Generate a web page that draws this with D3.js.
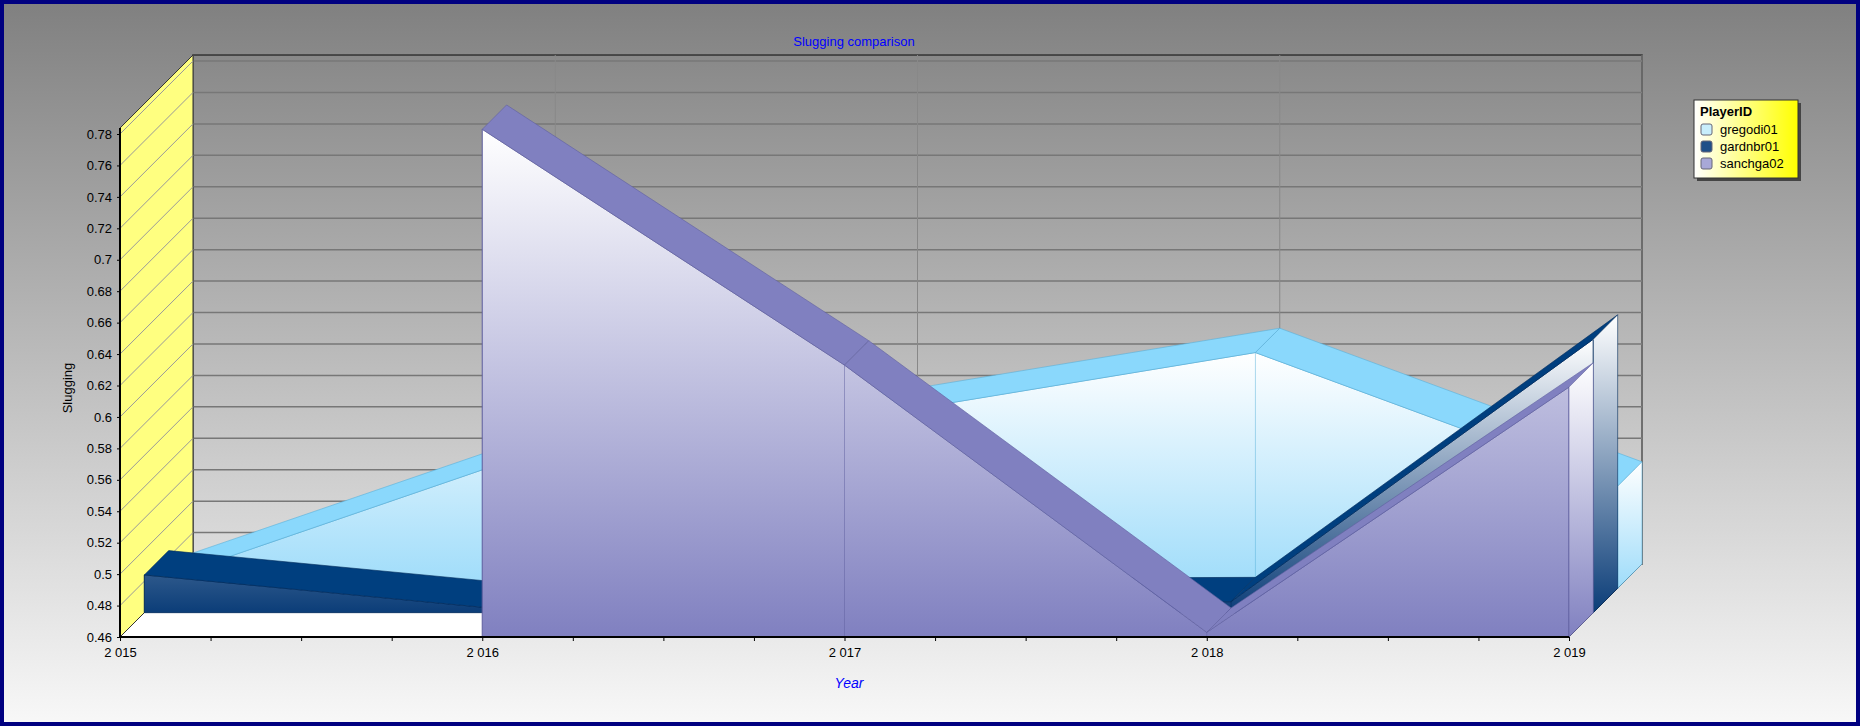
<!DOCTYPE html>
<html><head><meta charset="utf-8">
<script src="https://cdn.jsdelivr.net/npm/d3@7"></script>
<style>body{margin:0;overflow:hidden}svg{display:block;font-family:"Liberation Sans",Arial,sans-serif}</style>
</head><body><svg id="chart" width="1860" height="726"></svg>
<script>
const years = [2015, 2016, 2017, 2018, 2019];
const yearLabels = ['2 015', '2 016', '2 017', '2 018', '2 019'];
const yTicks = [0.46, 0.48, 0.5, 0.52, 0.54, 0.56, 0.58, 0.6, 0.62, 0.64, 0.66, 0.68, 0.7, 0.72, 0.74, 0.76, 0.78];
const seriesNames = ['gregodi01', 'gardnbr01', 'sanchga02'];
const gregodi01 = [0.467, 0.546, 0.572, 0.61, 0.525];
const gardnbr01 = [0.484, 0.462, 0.466, 0.467, 0.634];
const sanchga02 = [null, 0.783, 0.633, 0.463, 0.619];

const styles = [
  {name: 'gregodi01', values: gregodi01, strip: '#8ad8fc', face: '#9edcfa', edge: '#5ab0d8', layer: 2},
  {name: 'gardnbr01', values: gardnbr01, strip: '#003f7f', face: '#0b3d78', edge: '#002a5a', layer: 1},
  {name: 'sanchga02', values: sanchga02, strip: '#8080c0', face: '#8080c0', edge: '#6060a0', layer: 0}
];

const svg = d3.select('#chart');
const W = 1860, H = 726, D = 73, L = D / 3;
const x = d3.scaleLinear().domain([2015, 2019]).range([120, 1569]);
const y = d3.scaleLinear().domain([0.46, 0.78]).range([637, 134]);
const yTop = 0.7838;

const defs = svg.append('defs');
const bg = defs.append('linearGradient').attr('id', 'bg').attr('x1', 0).attr('y1', 0).attr('x2', 0).attr('y2', 1);
bg.append('stop').attr('offset', '0%').attr('stop-color', '#808080');
bg.append('stop').attr('offset', '100%').attr('stop-color', '#f8f8f8');
const lg = defs.append('linearGradient').attr('id', 'leg').attr('x1', 0).attr('y1', 0).attr('x2', 1).attr('y2', 0);
lg.append('stop').attr('offset', '0%').attr('stop-color', '#ffffff');
lg.append('stop').attr('offset', '100%').attr('stop-color', '#ffff00');
styles.forEach(s => {
  const g = defs.append('linearGradient').attr('id', 'f' + s.layer).attr('gradientUnits', 'userSpaceOnUse')
    .attr('x1', 0).attr('y1', y(d3.max(s.values)) - s.layer * L).attr('x2', 0).attr('y2', y(0.46) - s.layer * L);
  g.append('stop').attr('offset', '0%').attr('stop-color', '#ffffff');
  g.append('stop').attr('offset', '100%').attr('stop-color', s.face);
  const sg = defs.append('linearGradient').attr('id', 'sw' + s.layer).attr('x1', 0).attr('y1', 0).attr('x2', 0).attr('y2', 1);
  sg.append('stop').attr('offset', '0%').attr('stop-color', '#ffffff');
  sg.append('stop').attr('offset', '100%').attr('stop-color', s.face);
});

svg.append('rect').attr('x', 2).attr('y', 2).attr('width', W - 4).attr('height', H - 4)
  .attr('fill', 'url(#bg)').attr('stroke', '#000080').attr('stroke-width', 4);

const pt = (xv, yv, off) => [xv + off, yv - off];
const poly = pts => 'M' + pts.map(p => p.join(',')).join('L') + 'Z';

// back wall grid
const x0 = x(2015), x1 = x(2019), yb = y(0.46), yt = y(yTop);
svg.append('rect').attr('x', x0 + D).attr('y', yt - D).attr('width', x1 - x0).attr('height', yb - yt)
  .attr('fill', 'none').attr('stroke', '#333').attr('stroke-width', 1.5);
yTicks.forEach(v => {
  svg.append('line').attr('x1', x0 + D).attr('x2', x1 + D).attr('y1', y(v) - D).attr('y2', y(v) - D)
    .attr('stroke', '#777').attr('stroke-width', 1.5);
});
years.forEach(v => {
  svg.append('line').attr('x1', x(v) + D).attr('x2', x(v) + D).attr('y1', yt - D).attr('y2', yb - D)
    .attr('stroke', '#888').attr('stroke-width', 1);
});
// left wall
svg.append('path').attr('d', poly([[x0, yb], [x0, yt], [x0 + D, yt - D], [x0 + D, yb - D]]))
  .attr('fill', '#ffff80').attr('stroke', '#333');
yTicks.forEach(v => {
  svg.append('line').attr('x1', x0).attr('y1', y(v)).attr('x2', x0 + D).attr('y2', y(v) - D)
    .attr('stroke', '#999').attr('stroke-width', 1);
});
// floor
svg.append('path').attr('d', poly([[x0, yb], [x1, yb], [x1 + D, yb - D], [x0 + D, yb - D]]))
  .attr('fill', '#ffffff').attr('stroke', '#333');

// series, back to front
styles.forEach(s => {
  const off = s.layer * L;
  const pts = years.map((yr, i) => ({yr, v: s.values[i]})).filter(d => d.v != null);
  const g = svg.append('g');
  const face = [pt(x(pts[0].yr), yb, off)].concat(pts.map(d => pt(x(d.yr), y(d.v), off)), [pt(x(pts[pts.length - 1].yr), yb, off)]);
  g.append('path').attr('d', poly(face)).attr('fill', `url(#f${s.layer})`).attr('stroke', s.edge).attr('stroke-width', 0.8);
  pts.forEach(d => {
    g.append('line').attr('x1', pt(x(d.yr), 0, off)[0]).attr('x2', pt(x(d.yr), 0, off)[0])
      .attr('y1', y(d.v) - off).attr('y2', yb - off).attr('stroke', s.edge).attr('stroke-width', 0.5);
  });
  d3.pairs(pts).forEach(([a, b]) => {
    const p = [pt(x(a.yr), y(a.v), off), pt(x(b.yr), y(b.v), off), pt(x(b.yr), y(b.v), off + L), pt(x(a.yr), y(a.v), off + L)];
    g.append('path').attr('d', poly(p)).attr('fill', s.strip).attr('stroke', s.edge).attr('stroke-width', 0.6);
  });
  const last = pts[pts.length - 1];
  g.append('path').attr('d', poly([pt(x(last.yr), yb, off), pt(x(last.yr), y(last.v), off), pt(x(last.yr), y(last.v), off + L), pt(x(last.yr), yb, off + L)]))
    .attr('fill', `url(#sw${s.layer})`).attr('stroke', s.edge).attr('stroke-width', 0.6);
});

// axes
svg.append('line').attr('x1', x0).attr('x2', x0).attr('y1', yt).attr('y2', yb).attr('stroke', '#000').attr('stroke-width', 2);
svg.append('line').attr('x1', x0).attr('x2', x1).attr('y1', yb).attr('y2', yb).attr('stroke', '#000').attr('stroke-width', 2);
const yAxis = svg.append('g').attr('transform', `translate(${x0},0)`)
  .call(d3.axisLeft(y).tickValues(yTicks).tickSize(3).tickPadding(5).tickFormat(v => String(+v.toFixed(2))));
yAxis.select('.domain').remove();
yAxis.selectAll('text').attr('font-size', 13).attr('fill', '#000').attr('font-family', '"Liberation Sans",Arial');
const xAxis = svg.append('g').attr('transform', `translate(0,${yb})`)
  .call(d3.axisBottom(x).tickValues(d3.range(2015, 2019.01, 0.25)).tickSize(4)
    .tickFormat(v => Number.isInteger(v) ? yearLabels[years.indexOf(v)] : ''));
xAxis.select('.domain').remove();
xAxis.selectAll('text').attr('font-size', 13).attr('fill', '#000').attr('dy', '1em').attr('font-family', '"Liberation Sans",Arial');

svg.append('text').attr('x', 854).attr('y', 46).attr('text-anchor', 'middle').attr('font-size', 13)
  .attr('fill', '#0000ff').text('Slugging comparison');
svg.append('text').attr('transform', 'translate(72,388) rotate(-90)').attr('text-anchor', 'middle')
  .attr('font-size', 13).attr('fill', '#000').text('Slugging');
svg.append('text').attr('x', 849).attr('y', 688).attr('text-anchor', 'middle').attr('font-size', 14)
  .attr('font-style', 'italic').attr('fill', '#0000ff').text('Year');

// legend
const leg = svg.append('g').attr('transform', 'translate(1694,100)');
leg.append('rect').attr('x', 3).attr('y', 3).attr('width', 104).attr('height', 78).attr('fill', '#444');
leg.append('rect').attr('width', 104).attr('height', 78).attr('fill', 'url(#leg)').attr('stroke', '#333');
leg.append('text').attr('x', 6).attr('y', 16).attr('font-size', 13).attr('font-weight', 'bold').attr('fill', '#000').text('PlayerID');
const legFill = {gregodi01: '#c8eefc', gardnbr01: '#1f4f88', sanchga02: '#a8a8d8'};
seriesNames.forEach((n, i) => {
  leg.append('rect').attr('x', 7).attr('y', 24 + i * 17).attr('width', 11).attr('height', 11).attr('rx', 2)
    .attr('fill', legFill[n]).attr('stroke', '#667');
  leg.append('text').attr('x', 26).attr('y', 34 + i * 17).attr('font-size', 13).attr('fill', '#000').text(n);
});
</script></body></html>
